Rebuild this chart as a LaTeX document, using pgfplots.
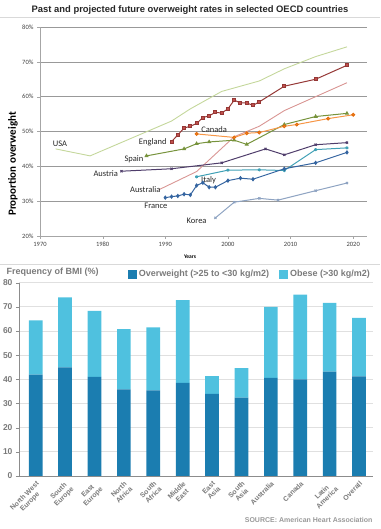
\documentclass[border=0pt]{standalone}
\usepackage{pgfplots}
\pgfplotsset{compat=1.18}
\usepackage{fontspec}
\setmainfont{Liberation Sans}
\newfontfamily\calfont{Carlito}
\definecolor{usa}{HTML}{C4D79B}
\definecolor{eng}{HTML}{953735}
\definecolor{engf}{HTML}{C0504D}
\definecolor{aus}{HTML}{D99694}
\definecolor{can}{HTML}{F79646}
\definecolor{cand}{HTML}{E46C0A}
\definecolor{spa}{HTML}{77933C}
\definecolor{aut}{HTML}{4F3D6B}
\definecolor{ita}{HTML}{3FA0B5}
\definecolor{fra}{HTML}{3464A0}
\definecolor{kor}{HTML}{8EA3C2}
\definecolor{ow}{HTML}{1B7DB0}
\definecolor{ob}{HTML}{4FC1DF}
\definecolor{txt}{HTML}{7A7A7A}
\begin{document}
\begin{tikzpicture}[x=1pt,y=1pt]
\useasboundingbox (0,0) rectangle (380,529);
% title
\node[font=\fontsize{9.4}{11}\selectfont\bfseries, text=black!85] at (190,519) {Past and projected future overweight rates in selected OECD countries};
\draw[black!15, line width=0.6pt] (0,512) -- (380,512);
\draw[black!15, line width=0.6pt] (0,265) -- (380,265);
\node[rotate=90, font=\calfont\fontsize{11}{12}\selectfont\bfseries] at (13,365) {Proportion overweight};
\node[font=\calfont\fontsize{5.5}{6}\selectfont\bfseries] at (190,272) {Years};
\begin{axis}[at={(40pt,293pt)}, anchor=south west, scale only axis,
  width=327pt, height=209pt,
  xmin=1970, xmax=2022.2, ymin=20, ymax=80,
  xtick={1970,1980,...,2020}, ytick={20,30,...,80},
  yticklabel={\pgfmathprintnumber{\tick}\%},
  /pgf/number format/assume math mode=true,
  x tick label style={/pgf/number format/1000 sep={}},
  ticklabel style={font=\calfont\fontsize{6.5}{7}\selectfont, text=black!75},
  ymajorgrids, grid style={black!40, line width=0.6pt},
  axis x line=bottom, axis y line=left,
  axis line style={black!35, -},
  tick style={black!35}, tick align=outside, major tick length=3pt,
  clip=false]
\addplot[usa, line width=0.9pt] coordinates {(1972.5,45) (1978,43) (1991,53) (1994,56.5) (1999,61.5) (2003,63.5) (2005,64.5) (2009,68) (2014,71.5) (2019,74.3)};
\addplot[aus, line width=0.9pt] coordinates {(1989,33.3) (1995,38.5) (2001,48.5) (2005,51.5) (2009,56) (2014,60) (2019,64)};
\addplot[eng, line width=1pt, mark=square*, mark size=1.5pt, mark options={fill=engf, draw=eng}] coordinates {(1991,47.1) (1992,49) (1993,51) (1994,51.5) (1995,52.3) (1996,54) (1997,54.5) (1998,55.5) (1999,55.3) (2000,56.5) (2001,59) (2002,58.2) (2003,58.2) (2004,57.5) (2005,58.5) (2009,63) (2014,65) (2019,69)};
\addplot[spa, line width=1pt, mark=triangle*, mark size=1.5pt] coordinates {(1987,43) (1993,45) (1995,46.5) (1997,47) (2001,47.5) (2003,46.3) (2009,52) (2014,54.3) (2019,55.2)};
\addplot[can, line width=1pt, mark=*, mark size=1.4pt, mark options={fill=can, draw=cand}] coordinates {(1995,49.3) (2001,48.3) (2003,49.5) (2005,49.7) (2009,51.5) (2011,52.0) (2016,53.7) (2020,54.8)};
\addplot[aut, line width=1pt, mark=x, mark size=1.5pt] coordinates {(1983,38.6) (1991,39.3) (1999,41) (2006,45) (2009,43.3) (2014,46.2) (2019,46.8)};
\addplot[ita, line width=1pt, mark=asterisk, mark size=1.5pt] coordinates {(1995,37) (2000,38.9) (2005,39) (2009,38.8) (2014,44.8) (2019,45.3)};
\addplot[fra, line width=1pt, mark=diamond*, mark size=1.5pt] coordinates {(1990,31) (1991,31.3) (1992,31.5) (1993,32) (1994,31.8) (1995,34.5) (1996,35.3) (1997,34) (1998,34) (2000,35.9) (2002,36.6) (2004,36.3) (2009,39.3) (2014,41) (2019,44)};
\addplot[kor, line width=1pt, mark=x, mark size=1.5pt] coordinates {(1998,25.2) (2001,29.7) (2005,30.8) (2008,30.3) (2014,33) (2019,35.2)};
\begin{scope}[every node/.style={font=\calfont\fontsize{8.5}{9}\selectfont, text=black!85}]
\node at (axis cs:1973.2,46.5) {USA};
\node at (axis cs:1988.0,46.8) {England};
\node at (axis cs:1997.8,50.5) {Canada};
\node at (axis cs:1985.0,41.9) {Spain};
\node at (axis cs:1980.5,37.8) {Austria};
\node at (axis cs:1986.8,33.2) {Australia};
\node at (axis cs:1996.9,35.9) {Italy};
\node at (axis cs:1988.5,28.8) {France};
\node at (axis cs:1995,24.3) {Korea};
\end{scope}
\end{axis}
% bottom chart
\node[anchor=west, font=\fontsize{9}{10}\selectfont\bfseries, text=txt] at (3,257) {Frequency of BMI (\%)};
\node[anchor=east, font=\fontsize{7}{8}\selectfont\bfseries, text=black!40] at (376,9) {SOURCE: American Heart Association};
\begin{axis}[at={(19pt,53pt)}, anchor=south west, scale only axis,
  width=354pt, height=193.3pt,
  ybar stacked, bar width=13.7pt,
  xmin=-0.567, xmax=11.475, ymin=0, ymax=80,
  ytick={0,10,...,80}, xtick={0,...,11},
  xticklabels={{North West\\Europe},{South\\Europe},{East\\Europe},{North\\Africa},{South\\Africa},{Middle\\East},{East\\Asia},{South\\Asia},{Australia},{Canada},{Latin\\America},{Overall}},
  x tick label style={rotate=45, anchor=north east, align=center, font=\fontsize{7}{7.6}\selectfont\bfseries, text=txt, inner sep=1pt},
  y tick label style={font=\fontsize{8.5}{9}\selectfont\bfseries, text=txt},
  /pgf/number format/assume math mode=true,
  ymajorgrids, grid style={black!12, line width=0.8pt},
  axis x line=bottom, axis y line=left,
  axis line style={black!45, -, line width=0.8pt},
  xtick style={draw=none}, ytick style={black!45}, tick align=outside, major tick length=3pt,
  legend style={at={(1,1)}, anchor=south east, draw=none, fill=none, legend columns=-1, font=\fontsize{9}{10}\selectfont\bfseries, text=txt, /tikz/every even column/.append style={column sep=8pt}, yshift=0pt, xshift=2pt},
  legend image code/.code={\fill[#1] (0pt,-4.5pt) rectangle (9pt,4.5pt);}]
\addplot[fill=ow, draw=none] coordinates {(0,42) (1,45) (2,41) (3,35.8) (4,35.4) (5,38.5) (6,34) (7,32.4) (8,40.6) (9,40) (10,43.2) (11,41.2)};
\addplot[fill=ob, draw=none] coordinates {(0,22.4) (1,28.9) (2,27.3) (3,25) (4,26.1) (5,34.3) (6,7.3) (7,12.2) (8,29.4) (9,35.1) (10,28.5) (11,24.2)};
\legend{Overweight (>25 to <30 kg/m2), Obese (>30 kg/m2)}
\end{axis}
\end{tikzpicture}
\end{document}
